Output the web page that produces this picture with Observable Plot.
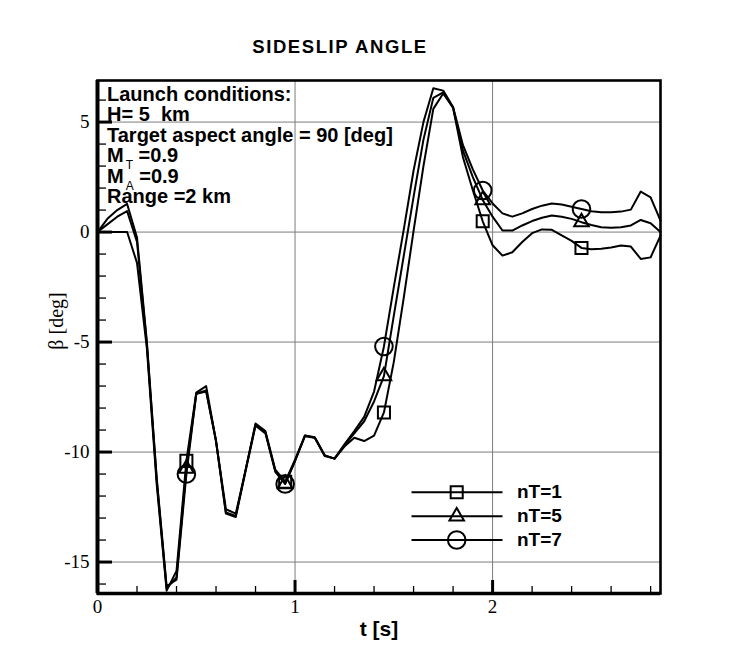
<!DOCTYPE html>
<html>
<head>
<meta charset="utf-8">
<script src="https://cdn.jsdelivr.net/npm/d3@7"></script>
<script src="https://cdn.jsdelivr.net/npm/@observablehq/plot@0.6"></script>
<style>
  body { margin: 0; background: #fff; }
  #chart { position: relative; width: 750px; height: 667px; }
</style>
</head>
<body>
<div id="chart"></div>
<script>
// Sample times [s]
const time = [0.00, 0.05, 0.10, 0.15, 0.20, 0.25, 0.30, 0.35, 0.40, 0.45,
              0.50, 0.55, 0.60, 0.65, 0.70, 0.75, 0.80, 0.85, 0.90, 0.95,
              1.00, 1.05, 1.10, 1.15, 1.20, 1.25, 1.30, 1.35, 1.40, 1.45,
              1.50, 1.55, 1.60, 1.65, 1.70, 1.75, 1.80, 1.85, 1.90, 1.95,
              2.00, 2.05, 2.10, 2.15, 2.20, 2.25, 2.30, 2.35, 2.40, 2.45,
              2.50, 2.55, 2.60, 2.65, 2.70, 2.75, 2.80, 2.85];

// Sideslip angle beta [deg] for each nT
const nT1 = [0, 0, 0, 0, -1.4, -5.3, -11.5, -16.3, -15.4, -10.4,
             -7.3, -7.0, -9.5, -12.6, -12.8, -10.8, -8.7, -9.05, -10.8, -11.35,
             -10.35, -9.25, -9.33, -10.15, -10.3, -9.75, -9.35, -9.5, -9.25, -8.2,
             -5.9, -3.0, 0.05, 3.0, 5.6, 6.3, 5.65, 3.4, 1.9, 0.49,
             -0.6, -1.07, -0.92, -0.45, -0.05, 0.12, 0.1, -0.15, -0.4, -0.72,
             -0.78, -0.76, -0.7, -0.61, -0.66, -1.22, -1.15, -0.16];
const nT5 = [0, 0.35, 0.7, 0.95, -0.45, -5.1, -11.3, -16.2, -15.7, -10.75,
             -7.35, -7.2, -9.5, -12.75, -12.9, -10.8, -8.75, -9.1, -10.85, -11.45,
             -10.4, -9.25, -9.35, -10.15, -10.3, -9.7, -9.15, -8.6, -7.7, -6.55,
             -3.8, -1.1, 1.6, 4.2, 6.1, 6.35, 5.65, 3.7, 2.5, 1.46,
             0.7, 0.07, 0.07, 0.3, 0.5, 0.65, 0.75, 0.7, 0.6, 0.45,
             0.32, 0.22, 0.2, 0.22, 0.3, 0.55, 0.4, 0.0];
const nT7 = [0, 0.6, 1.0, 1.28, -0.25, -5.0, -11.2, -16.1, -15.8, -11.0,
             -7.35, -7.25, -9.5, -12.8, -12.95, -10.85, -8.8, -9.15, -10.9, -11.45,
             -10.4, -9.28, -9.35, -10.18, -10.3, -9.65, -9.05, -8.4, -7.25, -5.2,
             -2.5, 0.1, 2.8, 5.0, 6.54, 6.43, 5.68, 3.95, 2.85, 1.89,
             1.3, 0.85, 0.7, 0.85, 1.05, 1.2, 1.3, 1.25, 1.15, 1.05,
             0.95, 0.9, 0.9, 0.93, 1.02, 1.84, 1.58, 0.52];

const seriesNames = ["nT=1", "nT=5", "nT=7"];
const seriesSymbols = ["square", "triangle", "circle"];

// Axis ticks
const xTicksMajor = [0, 1, 2];
const xTicksMinor = [0.2, 0.4, 0.6, 0.8, 1.2, 1.4, 1.6, 1.8, 2.2, 2.4, 2.6, 2.8];
const yTicksMajor = [-15, -10, -5, 0, 5];
const yTicksMinor = [-16, -14, -13, -12, -11, -9, -8, -7, -6, -4, -3, -2, -1, 1, 2, 3, 4, 6];
const xDomain = [0, 2.85];
const yDomain = [-16.43, 6.89];

const titleText = "SIDESLIP ANGLE";
const xLabel = "t [s]";
const yLabel = "\u03b2 [deg]";

// Long-format rows for the line marks; every tenth sample carries a symbol
const rows = [];
[nT1, nT5, nT7].forEach((vals, k) => vals.forEach((v, i) => rows.push({t: time[i], beta: v, series: seriesNames[k], i})));
const symbolRows = rows.filter(d => d.i % 10 === 9);

const W = 750, H = 667;
const mL = 97, mR = 90, mT = 80, mB = 74;
const plotW = W - mL - mR, plotH = H - mT - mB;
const symbolR = {square: 6.8, triangle: 5.4, circle: 8.8};
const serif = "'Liberation Serif', 'DejaVu Serif', serif";
const sans = "'Liberation Sans', Arial, sans-serif";

const chart = Plot.plot({
  width: W, height: H,
  marginLeft: mL, marginRight: mR, marginTop: mT, marginBottom: mB,
  style: {background: "white", color: "black", fontFamily: serif},
  x: {domain: xDomain},
  y: {domain: yDomain},
  marks: [
    Plot.gridX(xTicksMajor.slice(1), {stroke: "#7c7c7c", strokeOpacity: 1, strokeWidth: 1}),
    Plot.gridY(yTicksMajor, {stroke: "#7c7c7c", strokeOpacity: 1, strokeWidth: 1}),
    Plot.tickX(xTicksMinor, {x: d => d, insetTop: plotH - 7, stroke: "black", strokeWidth: 1.3}),
    Plot.tickX(xTicksMajor, {x: d => d, insetTop: plotH - 13, stroke: "black", strokeWidth: 3}),
    Plot.tickY(yTicksMinor, {y: d => d, insetRight: plotW - 9, stroke: "black", strokeWidth: 1.3}),
    Plot.tickY(yTicksMajor, {y: d => d, insetRight: plotW - 15, stroke: "black", strokeWidth: 3}),
    Plot.line(rows, {x: "t", y: "beta", z: "series", stroke: "black", strokeWidth: 2}),
    ...seriesNames.map((s, k) => Plot.dot(symbolRows.filter(d => d.series === s), {
      x: "t", y: "beta", symbol: seriesSymbols[k], r: symbolR[seriesSymbols[k]],
      fill: "none", stroke: "black", strokeWidth: 2
    })),
    Plot.frame({stroke: "black", strokeWidth: 2.6}),
    Plot.ruleX([xDomain[0]], {stroke: "black", strokeWidth: 4}),
    Plot.ruleY([yDomain[0]], {stroke: "black", strokeWidth: 3.6}),
    Plot.axisX({ticks: xTicksMajor, tickSize: 0, tickPadding: 6, label: null,
      tickFormat: d => String(d), fontSize: 19, fontFamily: serif}),
    Plot.axisY({ticks: yTicksMajor, tickSize: 0, tickPadding: 8, label: null,
      tickFormat: d => String(d), fontSize: 19, fontFamily: serif})
  ]
});
document.getElementById("chart").appendChild(chart);

const svg = d3.select(chart);

// Title and axis titles
svg.append("text").attr("x", 340).attr("y", 52.5).attr("text-anchor", "middle")
  .attr("font-family", sans).attr("font-weight", "bold").attr("font-size", 18.5)
  .attr("letter-spacing", 1.6).attr("fill", "black").text(titleText);
svg.append("text").attr("x", 379).attr("y", 636).attr("text-anchor", "middle")
  .attr("font-family", sans).attr("font-weight", "bold").attr("font-size", 21)
  .attr("fill", "black").text(xLabel);
svg.append("text").attr("transform", "translate(63,321) rotate(-90)").attr("text-anchor", "middle")
  .attr("font-family", serif).attr("font-size", 20).attr("fill", "black").text(yLabel);

// Launch-conditions block
const notes = svg.append("g").attr("font-family", sans).attr("font-weight", "bold")
  .attr("font-size", 20).attr("fill", "black").attr("text-anchor", "start");
const noteX = 107;
const noteY = [100.7, 120.5, 141.5, 162.2, 182.7, 203.3];
notes.append("text").attr("x", noteX).attr("y", noteY[0]).text("Launch conditions:");
notes.append("text").attr("x", noteX).attr("y", noteY[1]).style("white-space", "pre").text("H= 5  km");
notes.append("text").attr("x", noteX).attr("y", noteY[2]).text("Target aspect angle = 90 [deg]");
[["T", noteY[3]], ["A", noteY[4]]].forEach(([sub, y]) => {
  const t = notes.append("text").attr("x", noteX).attr("y", y).style("white-space", "pre");
  t.append("tspan").text("M");
  t.append("tspan").attr("dx", 2).attr("dy", 7).attr("font-size", 12).attr("font-weight", "normal").text(sub);
  t.append("tspan").attr("dy", -7).text(" =0.9");
});
notes.append("text").attr("x", noteX).attr("y", noteY[5]).text("Range =2 km");

// Legend
const legend = svg.append("g").attr("text-anchor", "start");
const legendY = [492.3, 516.3, 540];
seriesNames.forEach((s, k) => {
  const y = legendY[k];
  legend.append("line").attr("x1", 411.5).attr("x2", 502.5).attr("y1", y).attr("y2", y)
    .attr("stroke", "black").attr("stroke-width", 2);
  const sym = {square: d3.symbolSquare, triangle: d3.symbolTriangle, circle: d3.symbolCircle}[seriesSymbols[k]];
  const r = symbolR[seriesSymbols[k]];
  legend.append("path").attr("transform", `translate(456.7,${y})`)
    .attr("d", d3.symbol(sym, r * r * Math.PI)())
    .attr("fill", "none").attr("stroke", "black").attr("stroke-width", 2);
  legend.append("text").attr("x", 517).attr("y", y + 5.8)
    .attr("font-family", sans).attr("font-weight", "bold").attr("font-size", 19)
    .attr("fill", "black").text(s);
});
</script>
</body>
</html>
